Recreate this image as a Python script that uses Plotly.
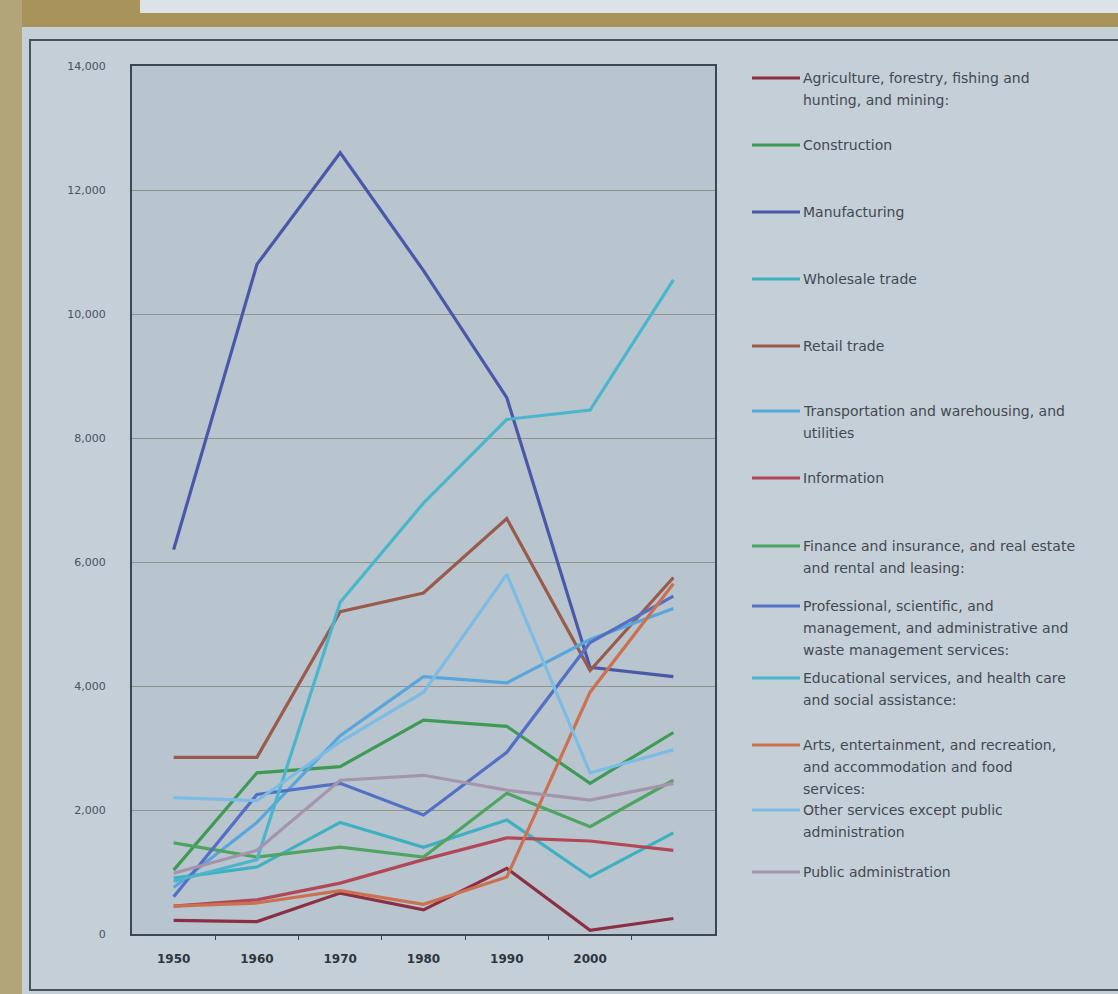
import plotly.graph_objects as go

# ── Data ──────────────────────────────────────────────────────────────────────
YEARS      = [1950, 1960, 1970, 1980, 1990, 2000, 2010]
TICK_YEARS = [1950, 1960, 1970, 1980, 1990, 2000]
Y_TICKS    = [0, 2000, 4000, 6000, 8000, 10000, 12000, 14000]

AGRICULTURE    = [220, 200, 660, 390, 1060, 60, 250]
CONSTRUCTION   = [1030, 2600, 2700, 3450, 3350, 2430, 3250]
MANUFACTURING  = [6200, 10800, 12600, 10700, 8650, 4300, 4150]
WHOLESALE      = [900, 1080, 1800, 1400, 1840, 920, 1630]
RETAIL         = [2850, 2850, 5200, 5500, 6700, 4250, 5750]
TRANSPORT      = [750, 1800, 3200, 4150, 4050, 4750, 5250]
INFORMATION    = [450, 550, 820, 1200, 1550, 1500, 1350]
FINANCE        = [1470, 1240, 1400, 1240, 2270, 1730, 2480]
PROFESSIONAL   = [600, 2250, 2430, 1920, 2930, 4700, 5450]
EDUCATION      = [850, 1200, 5350, 6950, 8300, 8450, 10550]
ARTS           = [450, 500, 700, 480, 920, 3900, 5650]
OTHER_SERVICES = [2200, 2150, 3100, 3900, 5800, 2600, 2970]
PUBLIC_ADMIN   = [980, 1350, 2480, 2560, 2320, 2160, 2430]

# ── Theme ─────────────────────────────────────────────────────────────────────
PAPER = "#c5cfd7"
PLOT  = "#b8c5cf"
FRAME = "#3e4751"
GRID  = "#8e938c"
TEXT  = "#434953"
GOLD  = "#a8945a"
TAN   = "#b2a57a"
STRIP = "#dde2e6"
FONT  = "DejaVu Sans"

SERIES = [
    ("Agriculture, forestry, fishing and\nhunting, and mining:", AGRICULTURE, "#8a3042"),
    ("Construction", CONSTRUCTION, "#3f9a55"),
    ("Manufacturing", MANUFACTURING, "#4a58a8"),
    ("Wholesale trade", WHOLESALE, "#3fb0c2"),
    ("Retail trade", RETAIL, "#9a5a4c"),
    ("Transportation and warehousing, and\nutilities", TRANSPORT, "#58a6dc"),
    ("Information", INFORMATION, "#b04858"),
    ("Finance and insurance, and real estate\nand rental and leasing:", FINANCE, "#4fa462"),
    ("Professional, scientific, and\nmanagement, and administrative and\nwaste management services:", PROFESSIONAL, "#5470c4"),
    ("Educational services, and health care\nand social assistance:", EDUCATION, "#4ab6cc"),
    ("Arts, entertainment, and recreation,\nand accommodation and food\nservices:", ARTS, "#cc7050"),
    ("Other services except public\nadministration", OTHER_SERVICES, "#7cbce4"),
    ("Public administration", PUBLIC_ADMIN, "#a494ac"),
]

# legend rows (pixel y of first text line)
LEGEND_Y = [78, 145, 212, 279, 346, 411, 478, 546, 606, 678, 745, 810, 872]

# plot box in pixels
L, R, T, B = 132, 715, 66, 934
W, H = 1118, 994


def xp(px):
    return (px - L) / (R - L)


def yp(py):
    return (B - py) / (B - T)


fig = go.Figure()
for name, vals, color in SERIES:
    fig.add_trace(go.Scatter(
        x=YEARS, y=vals, mode="lines",
        name=name.replace("\n", " "),
        line=dict(color=color, width=3.2),
        showlegend=False,
    ))

shapes = [
    # photo surroundings
    dict(type="rect", xref="paper", yref="paper", x0=xp(0), x1=xp(W), y0=yp(27), y1=yp(0),
         fillcolor=GOLD, line_width=0, layer="below"),
    dict(type="rect", xref="paper", yref="paper", x0=xp(140), x1=xp(W), y0=yp(13), y1=yp(0),
         fillcolor=STRIP, line_width=0, layer="below"),
    dict(type="rect", xref="paper", yref="paper", x0=xp(0), x1=xp(22), y0=yp(H), y1=yp(0),
         fillcolor=TAN, line_width=0, layer="below"),
    # outer chart border
    dict(type="rect", xref="paper", yref="paper", x0=xp(30), x1=xp(W + 10), y0=yp(990), y1=yp(40),
         line=dict(color="#4a525c", width=2), layer="below"),
]
annotations = []

for i, (name, vals, color) in enumerate(SERIES):
    y0 = LEGEND_Y[i]
    shapes.append(dict(type="line", xref="paper", yref="paper",
                       x0=xp(752), x1=xp(800), y0=yp(y0), y1=yp(y0),
                       line=dict(color=color, width=3)))
    for j, part in enumerate(name.split("\n")):
        annotations.append(dict(
            xref="paper", yref="paper", x=xp(801), y=yp(y0 + j * 22),
            text=part, showarrow=False, xanchor="left", yanchor="middle",
            font=dict(family=FONT, size=14, color=TEXT),
        ))

fig.update_layout(
    width=W, height=H, autosize=False,
    paper_bgcolor=PAPER, plot_bgcolor=PLOT,
    margin=dict(l=L, r=W - R, t=T, b=H - B),
    font=dict(family=FONT, color=TEXT),
    showlegend=False,
    shapes=shapes,
    annotations=annotations,
    xaxis=dict(
        range=[1945, 2015], tickmode="array", tickvals=TICK_YEARS,
        ticktext=[str(y) for y in TICK_YEARS],
        ticks="", showgrid=False, zeroline=False,
        showline=True, mirror=True, linecolor=FRAME, linewidth=2,
        ticklabelstandoff=13,
        tickfont=dict(family=FONT, size=12, color="#2e3640", weight="bold"),
        minor=dict(tickmode="array", tickvals=[1955, 1965, 1975, 1985, 1995, 2005],
                   ticks="outside", ticklen=4, tickcolor=FRAME, showgrid=False),
    ),
    yaxis=dict(
        range=[0, 14000], tickmode="array", tickvals=Y_TICKS, tickformat=",",
        ticks="", showgrid=True, gridcolor=GRID, gridwidth=1, zeroline=False,
        showline=True, mirror=True, linecolor=FRAME, linewidth=2,
        ticklabelstandoff=22,
        tickfont=dict(family=FONT, size=11, color="#4a5260"),
    ),
)

# page margin off so the figure sits at the window origin
fig.write_html(
    "out.html",
    config={"displayModeBar": False},
    post_script="document.body.style.margin='0';document.body.style.overflow='hidden';",
)
